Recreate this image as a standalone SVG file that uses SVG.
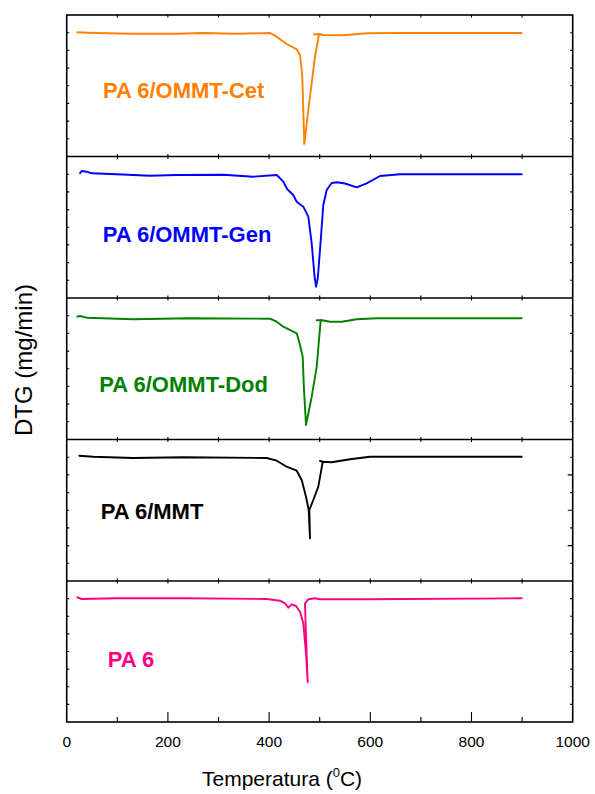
<svg xmlns="http://www.w3.org/2000/svg" width="595" height="794" viewBox="0 0 595 794">
<style>
.frame{fill:none;stroke:#000;stroke-width:1.6}
.tk{stroke:#000;stroke-width:1.1;fill:none}
.crv{fill:none;stroke-width:1.9;stroke-linejoin:round;stroke-linecap:round}
.lbl{font-family:"Liberation Sans",Arial,sans-serif;font-weight:bold;font-size:22px}
.num{font-family:"Liberation Sans",Arial,sans-serif;font-size:15.5px;fill:#000}
.ax{font-family:"Liberation Sans",Arial,sans-serif;font-size:21px;fill:#000}
.ay{font-family:"Liberation Sans",Arial,sans-serif;font-size:24px;fill:#000}
</style>
<rect width="595" height="794" fill="#fff"/>
<g id="axes">
<rect class="frame" x="66.7" y="15" width="506" height="707"/>
<path class="frame" d="M66.7 156.5H572.7M66.7 298H572.7M66.7 439.5H572.7M66.7 581H572.7"/>
<path class="tk" d="M117.3 15v2.5M167.9 15v2.5M218.5 15v2.5M269.1 15v2.5M319.7 15v2.5M370.3 15v2.5M420.9 15v2.5M471.5 15v2.5M522.1 15v2.5
M117.3 156.5v-2.5M167.9 156.5v-2.5M218.5 156.5v-2.5M269.1 156.5v-2.5M319.7 156.5v-2.5M370.3 156.5v-2.5M420.9 156.5v-2.5M471.5 156.5v-2.5M522.1 156.5v-2.5
M117.3 156.5v2.5M167.9 156.5v2.5M218.5 156.5v2.5M269.1 156.5v2.5M319.7 156.5v2.5M370.3 156.5v2.5M420.9 156.5v2.5M471.5 156.5v2.5M522.1 156.5v2.5
M117.3 298v-2.5M167.9 298v-2.5M218.5 298v-2.5M269.1 298v-2.5M319.7 298v-2.5M370.3 298v-2.5M420.9 298v-2.5M471.5 298v-2.5M522.1 298v-2.5
M117.3 298v2.5M167.9 298v2.5M218.5 298v2.5M269.1 298v2.5M319.7 298v2.5M370.3 298v2.5M420.9 298v2.5M471.5 298v2.5M522.1 298v2.5
M117.3 439.5v-2.5M167.9 439.5v-2.5M218.5 439.5v-2.5M269.1 439.5v-2.5M319.7 439.5v-2.5M370.3 439.5v-2.5M420.9 439.5v-2.5M471.5 439.5v-2.5M522.1 439.5v-2.5
M117.3 439.5v2.5M167.9 439.5v2.5M218.5 439.5v2.5M269.1 439.5v2.5M319.7 439.5v2.5M370.3 439.5v2.5M420.9 439.5v2.5M471.5 439.5v2.5M522.1 439.5v2.5
M117.3 581v-2.5M167.9 581v-2.5M218.5 581v-2.5M269.1 581v-2.5M319.7 581v-2.5M370.3 581v-2.5M420.9 581v-2.5M471.5 581v-2.5M522.1 581v-2.5
M117.3 581v2.5M167.9 581v2.5M218.5 581v2.5M269.1 581v2.5M319.7 581v2.5M370.3 581v2.5M420.9 581v2.5M471.5 581v2.5M522.1 581v2.5
M117.3 722v-5M167.9 722v-10M218.5 722v-5M269.1 722v-10M319.7 722v-5M370.3 722v-10M420.9 722v-5M471.5 722v-10M522.1 722v-5"/>
<path class="tk" d="M66.7 32.7h2.5M66.7 50.4h2.5M66.7 68.1h2.5M66.7 85.8h2.5M66.7 103.4h2.5M66.7 121.1h2.5M66.7 138.8h2.5
M66.7 174.2h2.5M66.7 191.9h2.5M66.7 209.6h2.5M66.7 227.3h2.5M66.7 244.9h2.5M66.7 262.6h2.5M66.7 280.3h2.5
M66.7 315.7h2.5M66.7 333.4h2.5M66.7 351.1h2.5M66.7 368.8h2.5M66.7 386.4h2.5M66.7 404.1h2.5M66.7 421.8h2.5
M66.7 457.2h2.5M66.7 474.9h2.5M66.7 492.6h2.5M66.7 510.3h2.5M66.7 527.9h2.5M66.7 545.6h2.5M66.7 563.3h2.5
M66.7 598.6h2.5M66.7 616.3h2.5M66.7 633.9h2.5M66.7 651.5h2.5M66.7 669.1h2.5M66.7 686.8h2.5M66.7 704.4h2.5"/>
<path class="tk" d="M572.7 32.7h-2.5M572.7 50.4h-2.5M572.7 68.1h-2.5M572.7 85.8h-2.5M572.7 103.4h-2.5M572.7 121.1h-2.5M572.7 138.8h-2.5
M572.7 174.2h-2.5M572.7 191.9h-2.5M572.7 209.6h-2.5M572.7 227.3h-2.5M572.7 244.9h-2.5M572.7 262.6h-2.5M572.7 280.3h-2.5
M572.7 315.7h-2.5M572.7 333.4h-2.5M572.7 351.1h-2.5M572.7 368.8h-2.5M572.7 386.4h-2.5M572.7 404.1h-2.5M572.7 421.8h-2.5
M572.7 457.2h-2.5M572.7 474.9h-5M572.7 492.6h-2.5M572.7 510.3h-5M572.7 527.9h-2.5M572.7 545.6h-5M572.7 563.3h-2.5
M572.7 598.6h-2.5M572.7 616.3h-2.5M572.7 633.9h-2.5M572.7 651.5h-2.5M572.7 669.1h-2.5M572.7 686.8h-2.5M572.7 704.4h-2.5"/>
<g text-anchor="middle">
<text class="num" x="66.7" y="747">0</text>
<text class="num" x="167.9" y="747">200</text>
<text class="num" x="269.1" y="747">400</text>
<text class="num" x="370.3" y="747">600</text>
<text class="num" x="471.5" y="747">800</text>
<text class="num" x="572.7" y="747">1000</text>
</g>
<text class="ax" x="202" y="786">Temperatura (<tspan font-size="13" dy="-9">0</tspan><tspan dy="9">C)</tspan></text>
<text class="ay" transform="translate(32,360) rotate(-90)" text-anchor="middle">DTG (mg/min)</text>
</g>
<g id="cet">
<path class="crv" stroke="#FF8000" d="M77.3 32.3L86.7 32.7L130 33.7L176.7 33.7L203.3 33L236.7 33.7L270 33L276.7 36.7L286.7 44L296.7 49.3L300 55L302.3 76.7L304.3 144L308.3 110L315 56.7L319 34.3L314 34.3M319 34L323.3 35L343.3 35.3L366.7 33.3L400 33L521.7 33"/>
<text class="lbl" fill="#FF8000" x="103" y="97.5">PA 6/OMMT-Cet</text>
</g>
<g id="gen">
<path class="crv" stroke="#0000FF" d="M80 173.3L81.7 171L86.7 171.7L91.7 173.3L116.7 174.3L150 175.7L176.7 175L223.3 174.7L253.3 176.7L276.7 175L283.3 181.7L287.3 189.3L293.3 195L296.7 201.7L303.3 206.7L308.3 216.7L311.7 243.3L314.5 276L316 286.7L317.8 278L320 250L323.3 205L326.7 190L331.7 183L337 182.3L345 183.5L356.7 187.3L366.7 183.3L380 176L400 174.3L521.7 174.3"/>
<text class="lbl" fill="#0000FF" x="102.7" y="242.3">PA 6/OMMT-Gen</text>
</g>
<g id="dod">
<path class="crv" stroke="#008000" d="M77.3 316.7L80 316L86.7 317.7L133.3 319.3L190 318.3L270 318.7L276.7 321.7L283.3 326.7L296.7 333.3L300 345L302.7 356.7L304 390L306 425L311.7 396.7L316.7 366.7L320.7 320.3L316.7 320.3M320.7 320L330 321.7L341.7 321.7L356.7 319.3L376.7 318.3L521.7 318.3"/>
<text class="lbl" fill="#008000" x="99.3" y="391.7">PA 6/OMMT-Dod</text>
</g>
<g id="mmt">
<path class="crv" stroke="#000" d="M79.3 455.7L93.3 456.7L133.3 458L183.3 457.3L266.7 458L276.7 460.7L286.7 466.7L296.7 470.7L301.7 480L306 496.7L308.7 510L310 538.3L309.3 510L313.3 500L318.3 486.7L320.7 473.3L322.7 461.7L320 461M322.7 461.7L331.7 462.3L350 459.3L370 456.7L521.7 456.7"/>
<text class="lbl" fill="#000" x="100.7" y="519.3">PA 6/MMT</text>
</g>
<g id="pa6">
<path class="crv" stroke="#FF0080" d="M77.3 597.3L81.7 599L116.7 598.3L183.3 598.3L266.7 599L280 600.7L285 603.3L288.3 607.7L291.7 604.3L296 606L300 611.7L303.3 623.3L306 653.3L307.7 682.3L306 636.7L305 603.3L308.3 599.3L315 598.3L320 599.3L366.7 599.3L521.7 598.3"/>
<text class="lbl" fill="#FF0080" x="107.7" y="666.7">PA 6</text>
</g>
</svg>
